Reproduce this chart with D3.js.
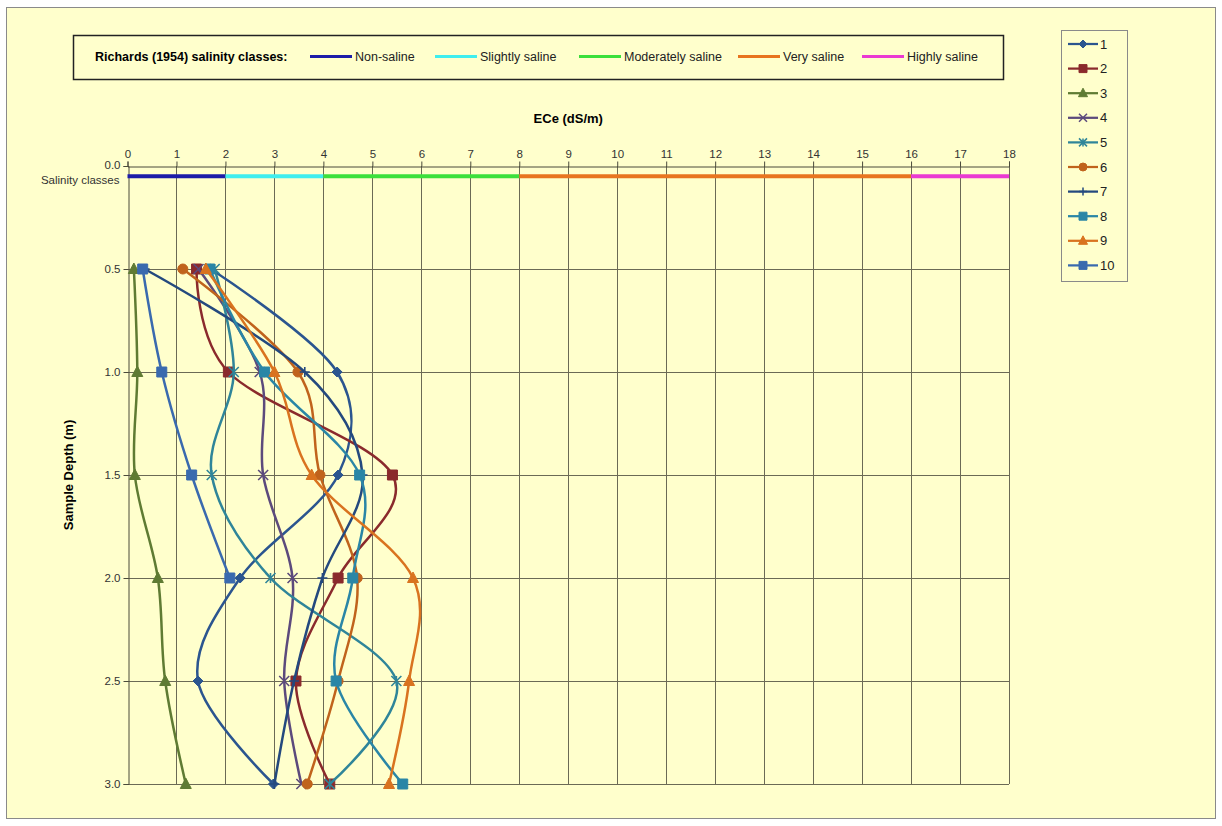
<!DOCTYPE html>
<html>
<head>
<meta charset="utf-8">
<script src="https://cdn.jsdelivr.net/npm/d3@7"></script>
<style>
  body { margin: 0; background: #ffffff; }
  svg { display: block; font-family: "Liberation Sans", Arial, sans-serif; }
</style>
</head>
<body>
<svg id="chart" width="1222" height="826"></svg>
<script>
// sample depths (m) and ECe readings (dS/m) per profile
const depths = [0.5, 1.0, 1.5, 2.0, 2.5, 3.0];
const seriesNames = ['1', '2', '3', '4', '5', '6', '7', '8', '9', '10'];
const ece1 = [1.70, 4.28, 4.30, 2.30, 1.44, 2.98];
const ece2 = [1.41, 2.06, 5.41, 4.30, 3.44, 4.13];
const ece3 = [0.13, 0.20, 0.15, 0.62, 0.77, 1.19];
const ece4 = [1.45, 2.70, 2.77, 3.37, 3.20, 3.55];
const ece5 = [1.78, 2.17, 1.72, 2.92, 5.49, 4.13];
const ece6 = [1.13, 3.48, 3.93, 4.69, 4.30, 3.67];
const ece7 = [0.35, 3.62, 4.80, 3.98, 3.40, 3.00];
const ece8 = [1.68, 2.80, 4.74, 4.60, 4.26, 5.62];
const ece9 = [1.60, 3.00, 3.76, 5.83, 5.75, 5.34];
const ece10 = [0.31, 0.70, 1.31, 2.09];
const eceSeries = [ece1, ece2, ece3, ece4, ece5, ece6, ece7, ece8, ece9, ece10];

// Richards (1954) salinity classes
const classBreaks = [0, 2, 4, 8, 16, 18];
const classNames = ['Non-saline', 'Slightly saline', 'Moderately saline', 'Very saline', 'Highly saline'];
const classDepth = 0.05;

const xTicks = d3.range(0, 19);
const yTicks = [0, 0.5, 1.0, 1.5, 2.0, 2.5, 3.0];

const classColors = ['#1c1ca8', '#3feeee', '#3be03b', '#e8741f', '#ea3ad2'];
const seriesColors = ['#2b558f', '#8a2a2c', '#5f7b33', '#5c4a7c', '#2f8599',
                      '#c0631c', '#24497e', '#2a86a6', '#d9731f', '#3a6aae'];
const markers = ['diamond', 'square', 'triangle', 'x', 'star', 'circle', 'plus', 'square', 'triangle', 'square'];

const svg = d3.select('#chart');

svg.append('rect')
  .attr('x', 6.5).attr('y', 7.5).attr('width', 1209).attr('height', 811)
  .attr('fill', '#ffffcc').attr('stroke', '#8a8a8a');

const x = d3.scaleLinear().domain([0, 18]).range([127.5, 1009]);
const y = d3.scaleLinear().domain([0, 3]).range([166, 784]);

// grid
const grid = svg.append('g').attr('stroke', '#6b6a55').attr('stroke-width', 1);
grid.selectAll('line.v').data(xTicks.slice(1)).enter().append('line')
  .attr('x1', d => Math.round(x(d)) + 0.5).attr('x2', d => Math.round(x(d)) + 0.5)
  .attr('y1', y(0)).attr('y2', y(3));
grid.selectAll('line.h').data(yTicks.slice(1)).enter().append('line')
  .attr('x1', x(0)).attr('x2', x(18))
  .attr('y1', d => Math.round(y(d)) + 0.5).attr('y2', d => Math.round(y(d)) + 0.5);

// axes
const xAxis = svg.append('g')
  .attr('transform', 'translate(0,' + (Math.round(y(0)) + 0.5) + ')')
  .call(d3.axisTop(x).tickValues(xTicks).tickSize(5).tickPadding(4).tickFormat(d3.format('d')));
const yAxis = svg.append('g')
  .attr('transform', 'translate(' + (Math.round(x(0)) + 0.5) + ',0)')
  .call(d3.axisLeft(y).tickValues(yTicks).tickSize(5).tickPadding(3).tickFormat(d3.format('.1f')));
[xAxis, yAxis].forEach(a => {
  a.select('.domain').attr('stroke', '#4a4a3a');
  a.selectAll('.tick line').attr('stroke', '#4a4a3a');
  a.selectAll('.tick text').attr('fill', '#333').style('font-size', '11.5px')
    .style('font-family', '"Liberation Sans", Arial, sans-serif');
});
yAxis.selectAll('.tick text').filter(d => d === 0).attr('dy', '0.2em');

svg.append('text')
  .attr('x', x(0) - 8).attr('y', 180).attr('dy', '0.35em')
  .attr('text-anchor', 'end').attr('fill', '#333').style('font-size', '11.5px')
  .text('Salinity classes');

// axis titles
svg.append('text')
  .attr('x', (x(0) + x(18)) / 2).attr('y', 123)
  .attr('text-anchor', 'middle').style('font-size', '13px').style('font-weight', 'bold')
  .text('ECe (dS/m)');
svg.append('text')
  .attr('transform', 'translate(73,' + (y(1.5)) + ') rotate(-90)')
  .attr('text-anchor', 'middle').style('font-size', '13px').style('font-weight', 'bold')
  .text('Sample Depth (m)');

// salinity class bar
svg.append('g').selectAll('line').data(classNames).enter().append('line')
  .attr('x1', (d, i) => x(classBreaks[i])).attr('x2', (d, i) => x(classBreaks[i + 1]))
  .attr('y1', y(classDepth)).attr('y2', y(classDepth))
  .attr('stroke', (d, i) => classColors[i]).attr('stroke-width', 4);

// marker shapes
function markerPath(type, s) {
  const h = s / 2;
  switch (type) {
    case 'diamond': return 'M0,' + (-h) + 'L' + h + ',0L0,' + h + 'L' + (-h) + ',0Z';
    case 'square': return 'M' + (-h) + ',' + (-h) + 'h' + s + 'v' + s + 'h' + (-s) + 'Z';
    case 'triangle': return 'M0,' + (-h - 1) + 'L' + (h + 0.5) + ',' + (h - 0.5) + 'L' + (-h - 0.5) + ',' + (h - 0.5) + 'Z';
    case 'circle': return d3.symbol(d3.symbolCircle, Math.PI * h * h)();
    case 'x': return 'M' + (-h) + ',' + (-h) + 'L' + h + ',' + h + 'M' + h + ',' + (-h) + 'L' + (-h) + ',' + h;
    case 'star': return 'M' + (-h) + ',' + (-h) + 'L' + h + ',' + h + 'M' + h + ',' + (-h) + 'L' + (-h) + ',' + h + 'M0,' + (-h) + 'L0,' + h;
    case 'plus': return 'M' + (-h) + ',0L' + h + ',0M0,' + (-h) + 'L0,' + h;
  }
}
const strokeOnly = t => t === 'x' || t === 'star' || t === 'plus';

const line = d3.line()
  .x(d => x(d[0])).y(d => y(d[1]))
  .curve(d3.curveCatmullRom.alpha(0));

const plot = svg.append('g');
eceSeries.forEach((vals, i) => {
  const pts = vals.map((v, j) => [v, depths[j]]);
  const g = plot.append('g');
  g.append('path').datum(pts)
    .attr('d', line).attr('fill', 'none')
    .attr('stroke', seriesColors[i]).attr('stroke-width', 2.5);
  g.selectAll('path.m').data(pts).enter().append('path')
    .attr('transform', d => 'translate(' + x(d[0]) + ',' + y(d[1]) + ')')
    .attr('d', markerPath(markers[i], 10))
    .attr('fill', strokeOnly(markers[i]) ? 'none' : seriesColors[i])
    .attr('stroke', seriesColors[i]).attr('stroke-width', strokeOnly(markers[i]) ? 1.6 : 1);
});

// top legend: salinity classes
const lg = svg.append('g');
lg.append('rect').attr('x', 73.5).attr('y', 35.5).attr('width', 930).attr('height', 44)
  .attr('fill', '#ffffcc').attr('stroke', '#222').attr('stroke-width', 1.5);
lg.append('text').attr('x', 95).attr('y', 57).attr('dy', '0.35em')
  .style('font-size', '12.5px').style('font-weight', 'bold').text('Richards (1954) salinity classes:');
const legX = [310, 435, 579, 738, 862];
classNames.forEach((n, i) => {
  lg.append('line').attr('x1', legX[i]).attr('x2', legX[i] + 42).attr('y1', 56.5).attr('y2', 56.5)
    .attr('stroke', classColors[i]).attr('stroke-width', 3);
  lg.append('text').attr('x', legX[i] + 45).attr('y', 57).attr('dy', '0.35em')
    .style('font-size', '12.5px').attr('fill', '#222').text(n);
});

// right legend: profiles
const rl = svg.append('g');
rl.append('rect').attr('x', 1061.5).attr('y', 30.5).attr('width', 66).attr('height', 251)
  .attr('fill', '#ffffcc').attr('stroke', '#8a8a8a');
seriesNames.forEach((n, i) => {
  const yy = 44 + i * 24.6;
  rl.append('line').attr('x1', 1068).attr('x2', 1098).attr('y1', yy).attr('y2', yy)
    .attr('stroke', seriesColors[i]).attr('stroke-width', 2.25);
  rl.append('path').attr('transform', 'translate(1083,' + yy + ')')
    .attr('d', markerPath(markers[i], 8))
    .attr('fill', strokeOnly(markers[i]) ? 'none' : seriesColors[i])
    .attr('stroke', seriesColors[i]).attr('stroke-width', strokeOnly(markers[i]) ? 1.5 : 1);
  rl.append('text').attr('x', 1100).attr('y', yy).attr('dy', '0.35em')
    .style('font-size', '13px').attr('fill', '#222').text(n);
});
</script>
</body>
</html>
